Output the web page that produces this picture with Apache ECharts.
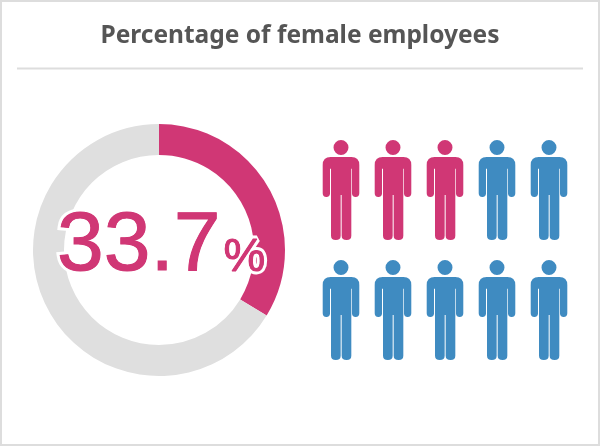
<!DOCTYPE html>
<html>
<head>
<meta charset="utf-8">
<style>
  html, body { margin: 0; padding: 0; background: #fff; }
  #main { width: 600px; height: 446px; }
</style>
<script src="https://cdn.jsdelivr.net/npm/echarts@6/dist/echarts.min.js"></script>
</head>
<body>
<div id="main"></div>
<script>
var titleText = 'Percentage of female employees';
var shareNames = ['Female', 'Male'];
var shareValues = [33.7, 66.3];
var shareLabel = '33.7';
var peopleColumns = [0, 1, 2, 3, 4, 0, 1, 2, 3, 4];
var peopleRows = [0, 0, 0, 0, 0, 1, 1, 1, 1, 1];
var peopleGroups = ['f', 'f', 'f', 'm', 'm', 'm', 'm', 'm', 'm', 'm'];

var PINK = '#d03775';
var BLUE = '#3f8bc1';
var GREY = '#dfdfdf';

var personPath = 'path://M55 0a22.5 22.5 0 1 1 0 45a22.5 22.5 0 1 1 0-45Z' +
  'M24 51H86Q110 51 110 75V160Q110 171 99 171Q88 171 88 160V86H86V287Q86 300 72 300Q57 300 57 287V165H54V287Q54 300 39.5 300Q25 300 25 287V86H22V160Q22 171 11 171Q0 171 0 160V75Q0 51 24 51Z';

// the number is drawn twice: white halo under, pink glyphs on top
function numberTitle(border, borderWidth, z) {
  var base = { fontFamily: 'Liberation Sans', fontWeight: 'normal', color: PINK, textBorderColor: border, textBorderWidth: borderWidth };
  return {
    text: '{num|' + shareLabel + '}{pct|%}',
    left: 52,
    top: 200,
    z: z,
    textStyle: {
      rich: {
        num: Object.assign({ fontSize: 84 }, base),
        pct: Object.assign({ fontSize: 47, padding: [22, 0, 0, 3] }, base)
      }
    }
  };
}

var chart = echarts.init(document.getElementById('main'), null, { renderer: 'canvas' });

chart.setOption({
  animation: false,
  backgroundColor: '#fff',
  title: [{
    text: titleText,
    left: 'center',
    top: 19,
    textStyle: { fontFamily: 'Noto Sans', fontSize: 24.5, fontWeight: 'bold', color: '#555555' }
  }, numberTitle('#fff', 7, 6), numberTitle(PINK, 1, 7)],
  graphic: [{
    type: 'rect',
    shape: { x: 1, y: 1, width: 598, height: 444 },
    style: { fill: 'none', stroke: '#dddddd', lineWidth: 2 },
    silent: true
  }, {
    type: 'line',
    shape: { x1: 17, y1: 68.5, x2: 583, y2: 68.5 },
    style: { stroke: '#dddddd', lineWidth: 2 },
    silent: true
  }],
  grid: { left: 315, top: 130, width: 260, height: 240 },
  xAxis: { type: 'value', min: -0.5, max: 4.5, show: false },
  yAxis: { type: 'value', min: -0.5, max: 1.5, inverse: true, show: false },
  series: [{
    type: 'pie',
    center: [159, 250],
    radius: [95, 126],
    startAngle: 90,
    silent: true,
    label: { show: false },
    labelLine: { show: false },
    data: shareNames.map(function (n, i) {
      return { name: n, value: shareValues[i], itemStyle: { color: i === 0 ? PINK : GREY } };
    })
  }, {
    type: 'scatter',
    silent: true,
    symbol: personPath,
    symbolSize: [36.6, 100],
    data: peopleGroups.map(function (g, i) {
      return { value: [peopleColumns[i], peopleRows[i]], itemStyle: { color: g === 'f' ? PINK : BLUE, opacity: 1 } };
    })
  }]
});
</script>
</body>
</html>
